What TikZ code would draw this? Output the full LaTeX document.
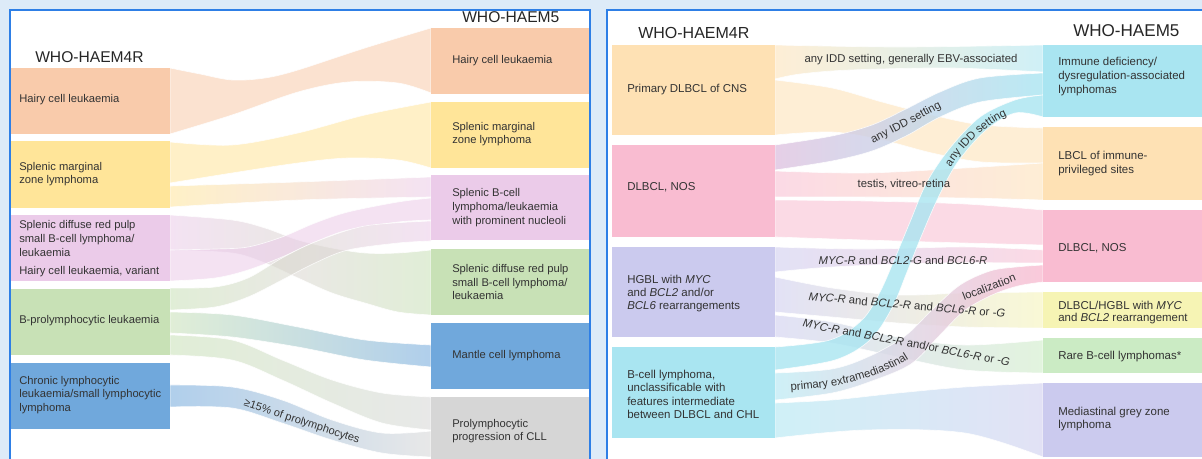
\documentclass[tikz,border=0pt]{standalone}
\usepackage{fontspec}
\setmainfont{Liberation Sans}
\usetikzlibrary{fit,decorations.text}
\definecolor{bg}{HTML}{DDEBF8}
\definecolor{frame}{HTML}{2E7FE6}
\definecolor{txt}{HTML}{333333}
\definecolor{cOr}{HTML}{F9CBAB}
\definecolor{cYe}{HTML}{FFE599}
\definecolor{cPk}{HTML}{EBCBE9}
\definecolor{cGn}{HTML}{C8E1B6}
\definecolor{cBl}{HTML}{70A8DC}
\definecolor{cGy}{HTML}{D6D6D6}
\definecolor{rOr}{HTML}{FEE1B4}
\definecolor{rPk}{HTML}{F9BCD1}
\definecolor{rLv}{HTML}{CBCAEE}
\definecolor{rCy}{HTML}{A9E5F1}
\definecolor{rYe}{HTML}{F6F4B4}
\definecolor{rGn}{HTML}{CBEBC4}
\newcommand{\myfs}[2]{\fontsize{#1}{#2}\selectfont}
\newcommand{\sflow}[3]{\path[#1] plot[smooth,tension=.55] coordinates {#2} -- plot[smooth,tension=.55] coordinates {#3} -- cycle;}
\begin{document}
\begin{tikzpicture}[x=0.75pt,y=-0.75pt,
  fl/.style={fill opacity=.55, draw=white, draw opacity=.8, line width=.5pt},
  flt/.style={fill opacity=.8, draw=white, draw opacity=.8, line width=.5pt},
  box/.style={inner sep=0pt, outer sep=0pt, draw=none},
  ltxt/.style={font=\myfs{8.4pt}{10.3pt}, text=txt, align=left, inner sep=0pt, anchor=west},
  rtxt/.style={font=\myfs{8.6pt}{10pt}, text=txt, align=left, inner sep=0pt, anchor=west},
  flab/.style={font=\myfs{8.5pt}{10pt}, text=txt, inner sep=0pt},
  curvlab/.style={decorate, decoration={text along path, text color=txt, text align=center, text={|\myfs{8.5pt}{10pt}|#1}}},
  ttl/.style={font=\myfs{11.7pt}{14pt}, text=black!85, inner sep=0pt, anchor=west}]
\useasboundingbox (0,0) rectangle (1202,459);
\clip (0,0) rectangle (1202,459);
\fill[bg] (0,0) rectangle (1202,459);
\fill[white] (10,10) rectangle (590,470);
\fill[white] (607,10) rectangle (1215,470);

% ---------------- left panel flows
\sflow{fl,fill=cOr}{(170,68)(200,74)(232,80)(265,78)(298,70)(365,48)(431,28)}{(431,93)(398,83)(348,82)(298,92)(232,115)(170,134)}
\sflow{fl,fill=cYe}{(170,142)(232,145)(298,133)(365,115)(431,102)}{(431,168)(398,160)(348,158)(298,163)(232,173)(170,183)}
\sflow{fl,left color=cYe,right color=cPk}{(170,186)(298,182)(431,177)}{(431,197)(298,200)(170,207)}
\sflow{fl,left color=cPk,right color=cGn}{(170,215)(232,220)(265,228)(298,240)(332,248)(365,253)(398,253)(431,250)}{(431,315)(398,312)(365,303)(332,293)(298,278)(265,263)(232,253)(170,250)}
\sflow{fl,fill=cPk}{(170,250)(215,249)(248,247)(282,237)(315,223)(348,212)(398,202)(431,198)}{(431,220)(398,222)(348,230)(315,242)(282,257)(248,270)(215,278)(170,281)}
\sflow{fl,left color=cGn,right color=cPk}{(170,288)(215,287)(248,278)(282,258)(315,242)(365,226)(431,221)}{(431,241)(398,243)(348,250)(315,263)(282,280)(248,297)(215,307)(170,310)}
\sflow{fl,left color=cGn,right color=cBl}{(170,312)(232,315)(298,327)(365,340)(431,345)}{(431,367)(365,360)(298,347)(232,337)(170,333)}
\sflow{fl,left color=cGn,right color=cGy}{(170,335)(232,340)(282,360)(332,380)(382,393)(431,397)}{(431,430)(382,423)(332,403)(282,380)(232,360)(170,355)}
\sflow{fl,left color=cBl,right color=cGy}{(170,385)(232,387)(282,400)(332,420)(382,433)(431,431)}{(431,457)(382,453)(332,440)(282,423)(232,408)(170,407)}

% ---------------- left panel boxes
\node[box,fill=cOr,fit={(10,68)(170,134)}] (lHCL) {};
\node[box,fill=cYe,fit={(10,141)(170,208)}] (lSMZL) {};
\node[box,fill=cPk,fit={(10,215)(170,281)}] (lSDRP) {};
\node[box,fill=cGn,fit={(10,289)(170,355)}] (lBPLL) {};
\node[box,fill=cBl,fit={(10,363)(170,429)}] (lCLL) {};
\node[box,fill=cOr,fit={(431,28)(590,94)}] (mHCL) {};
\node[box,fill=cYe,fit={(431,102)(590,168)}] (mSMZL) {};
\node[box,fill=cPk,fit={(431,175)(590,240)}] (mSBL) {};
\node[box,fill=cGn,fit={(431,249)(590,315)}] (mSDRP) {};
\node[box,fill=cBl,fit={(431,323)(590,389)}] (mMCL) {};
\node[box,fill=cGy,fit={(431,397)(590,470)}] (mPPC) {};

% ---------------- right panel flows
\sflow{fl,left color=rOr,right color=rCy}{(775,45)(900,47)(1043,45)}{(1043,72)(950,68)(850,70)(800,74)(775,79)}
\sflow{fl,fill=rOr}{(775,80)(832,88)(882,102)(932,115)(982,125)(1043,128)}{(1043,163)(982,162)(932,153)(882,140)(832,132)(775,135)}
\sflow{fl,left color=rPk,right color=rOr}{(775,171)(865,173)(965,168)(1043,163)}{(1043,200)(965,198)(865,197)(775,197)}
\sflow{fl,fill=rPk}{(775,200)(865,201)(965,204)(1043,210)}{(1043,245)(965,243)(865,240)(775,237)}
\sflow{fl,left color=rLv,right color=rPk}{(775,247)(865,249)(965,247)(1043,250)}{(1043,263)(932,263)(832,267)(775,272)}
\sflow{fl,left color=rLv,right color=rYe}{(775,277)(832,288)(898,295)(965,293)(1043,292)}{(1043,328)(965,327)(898,323)(832,317)(775,312)}
\sflow{fl,left color=rLv,right color=rGn}{(775,315)(832,322)(898,337)(965,345)(1043,340)}{(1043,373)(965,370)(898,357)(832,343)(775,337)}
\sflow{fl,left color=rCy,right color=rLv}{(775,403)(832,400)(898,393)(965,387)(1043,383)}{(1043,457)(965,433)(865,430)(775,438)}
\sflow{flt,left color=rCy!70!white,right color=rPk}{(775,373)(832,369)(870,356)(905,336)(932,310)(960,285)(990,271)(1016,267)(1043,265)}{(1043,282)(1018,286)(992,295)(964,311)(938,337)(911,364)(872,381)(832,393)(775,400)}
\sflow{flt,left color=rPk!45!rLv,right color=rCy}{(775,145)(832,136)(872,125)(906,109)(940,92)(980,78)(1043,73)}{(1043,95)(980,102)(940,117)(906,136)(872,151)(832,161)(775,170)}
\sflow{flt,fill=rCy}{(775,347)(830,340)(862,320)(880,292)(895,258)(910,222)(927,182)(950,148)(980,117)(1015,100)(1043,95)}{(1043,117)(1015,113)(985,131)(957,163)(938,198)(921,237)(907,272)(892,308)(870,340)(835,360)(775,370)}

% ---------------- right panel boxes
\node[box,fill=rOr,fit={(612,45)(775,135)}] (rPCNS) {};
\node[box,fill=rPk,fit={(612,145)(775,237)}] (rNOSa) {};
\node[box,fill=rLv,fit={(612,247)(775,337)}] (rHGBL) {};
\node[box,fill=rCy,fit={(612,347)(775,438)}] (rBCU) {};
\node[box,fill=rCy,fit={(1043,45)(1215,117)}] (sIDD) {};
\node[box,fill=rOr,fit={(1043,127)(1215,200)}] (sLBCL) {};
\node[box,fill=rPk,fit={(1043,210)(1215,282)}] (sNOS) {};
\node[box,fill=rYe,fit={(1043,292)(1215,328)}] (sDH) {};
\node[box,fill=rGn,fit={(1043,338)(1215,373)}] (sRare) {};
\node[box,fill=rLv,fit={(1043,383)(1215,457)}] (sMGZ) {};

% ---------------- frames
\draw[frame, line width=1pt] (10,470) -- (10,10) -- (590,10) -- (590,470);
\draw[frame, line width=1pt] (607,470) -- (607,10) -- (1215,10);

% ---------------- titles
\node[ttl] (t1) at (35,57) {WHO-HAEM4R};
\node[ttl] (t2) at (462,17) {WHO-HAEM5};
\node[ttl,font=\myfs{12pt}{14pt}] (t3) at (638,33) {WHO-HAEM4R};
\node[ttl,font=\myfs{12.8pt}{14pt}] (t4) at (1073,31) {WHO-HAEM5};

% ---------------- left panel texts
\node[ltxt] (xa) at (19,100) {Hairy cell leukaemia};
\node[ltxt] (xb) at (19,174) {Splenic marginal\\zone lymphoma};
\node[ltxt] (xc) at (19,249) {Splenic diffuse red pulp\\small B-cell lymphoma/\\leukaemia\\[3.5pt]Hairy cell leukaemia, variant};
\node[ltxt] (xd) at (19,321) {B-prolymphocytic leukaemia};
\node[ltxt] (xe) at (19,395) {Chronic lymphocytic\\leukaemia/small lymphocytic\\lymphoma};
\node[ltxt] (ya) at (452,61) {Hairy cell leukaemia};
\node[ltxt] (yb) at (452,134) {Splenic marginal\\zone lymphoma};
\node[ltxt] (yc) at (452,207.5) {Splenic B-cell\\lymphoma/leukaemia\\with prominent nucleoli};
\node[ltxt] (yd) at (452,282) {Splenic diffuse red pulp\\small B-cell lymphoma/\\leukaemia};
\node[ltxt] (ye) at (452,356) {Mantle cell lymphoma};
\node[ltxt] (yf) at (452,431) {Prolymphocytic\\progression of CLL};
\node[flab,font=\myfs{8.3pt}{10pt},rotate=-18.4] (lab0) at (301.7,421.7) {≥15\% of prolymphocytes};

% ---------------- right panel texts
\node[rtxt] (za) at (627,90) {Primary DLBCL of CNS};
\node[rtxt] (zb) at (627,187) {DLBCL, NOS};
\node[rtxt] (zc) at (627,293.5) {HGBL with \textit{MYC}\\and \textit{BCL2} and/or\\\textit{BCL6} rearrangements};
\node[rtxt] (zd) at (627,394.3) {B-cell lymphoma,\\unclassificable with\\features intermediate\\between DLBCL and CHL};
\node[rtxt,font=\myfs{8.6pt}{10.5pt}] (wa) at (1058,77) {Immune deficiency/\\dysregulation-associated\\lymphomas};
\node[rtxt] (wb) at (1058,163.5) {LBCL of immune-\\privileged sites};
\node[rtxt] (wc) at (1058,248) {DLBCL, NOS};
\node[rtxt,font=\myfs{8.6pt}{9pt}] (wd) at (1058,312.8) {DLBCL/HGBL with \textit{MYC}\\and \textit{BCL2} rearrangement};
\node[rtxt] (we) at (1058,356.7) {Rare B-cell lymphomas*};
\node[rtxt] (wf) at (1058,419.3) {Mediastinal grey zone\\lymphoma};

% ---------------- flow labels
\node[flab] (lab1) at (911,60) {any IDD setting, generally EBV-associated};
\node[flab,rotate=28] (lab2) at (906,123) {any IDD setting};
\path[curvlab={any IDD setting}] (949,170) .. controls (960,152) and (980,127) .. (1010,114);
\node[flab] (lab4) at (904,184) {testis, vitreo-retina};
\node[flab] (lab5) at (903,260) {\textit{MYC-R} and \textit{BCL2-G} and \textit{BCL6-R}};
\node[flab,rotate=-5] (lab6) at (907,305) {\textit{MYC-R} and \textit{BCL2-R} and \textit{BCL6-R} or \textit{-G}};
\node[flab,rotate=-10.7] (lab7) at (906.5,342.5) {\textit{MYC-R} and \textit{BCL2-R} and/or \textit{BCL6-R} or \textit{-G}};
\path[curvlab={primary extramediastinal}] (786,391) .. controls (840,388) and (880,378) .. (913,356);
\node[flab,rotate=21] (lab9) at (989,287) {localization};
\end{tikzpicture}
\end{document}
